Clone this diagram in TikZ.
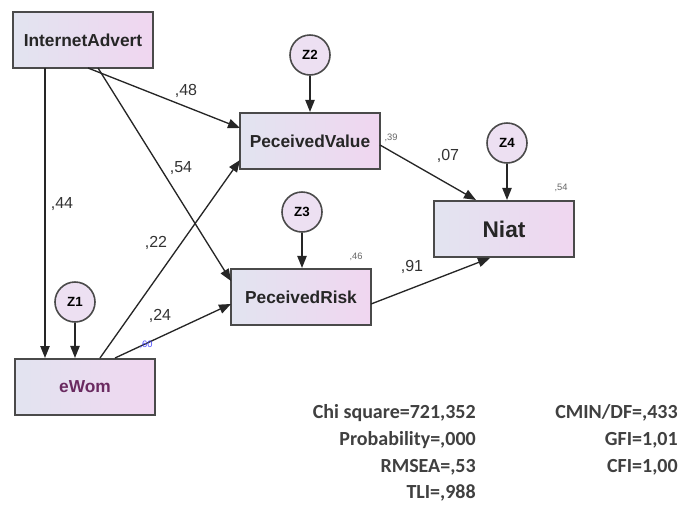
\documentclass[tikz,border=0pt]{standalone}
\usepackage{fontspec}
\setmainfont{Liberation Sans}
\newfontfamily\statfont{Carlito}
\usetikzlibrary{arrows.meta}
\definecolor{boxline}{HTML}{4A4A4A}
\definecolor{boxleft}{HTML}{E2E4F0}
\definecolor{boxright}{HTML}{F0D6F0}
\definecolor{circfill}{HTML}{EDE0F2}
\definecolor{stattext}{HTML}{404040}
\definecolor{womtext}{HTML}{6A2A60}
\tikzset{
  varbox/.style={draw=boxline, line width=1.6pt, left color=boxleft, right color=boxright,
    minimum width=105pt, minimum height=42pt, inner sep=0pt, font=\bfseries\fontsize{13}{15}\selectfont, text=black!85},
  errc/.style={circle, draw=boxline, line width=1.2pt, fill=circfill, minimum size=30pt, inner sep=0pt,
    font=\bfseries\fontsize{10}{12}\selectfont},
  path/.style={-{Triangle[length=9pt,width=7pt]}, line width=1pt, draw=black!85},
  coef/.style={font=\fontsize{12}{14}\selectfont, text=black!80},
  rsq/.style={font=\fontsize{7}{8}\selectfont, text=black!60},
  stat/.style={font=\statfont\bfseries\fontsize{15}{18}\selectfont, text=stattext, anchor=east, inner sep=0pt}
}
\begin{document}
\begin{tikzpicture}[x=0.75pt,y=-0.75pt]
\useasboundingbox (0,0) rectangle (682,515);
% nodes
\node[varbox] (ia) at (83,40) {InternetAdvert};
\node[varbox] (pv) at (310,141) {PeceivedValue};
\node[varbox] (pr) at (301,297) {PeceivedRisk};
\node[varbox, font=\bfseries\fontsize{17}{20}\selectfont] (ni) at (504,229) {Niat};
\node[varbox, text=womtext] (ew) at (85,387) {eWom};
\node[errc] (z1) at (75,302) {Z1};
\node[errc] (z2) at (310,55) {Z2};
\node[errc] (z3) at (302,212) {Z3};
\node[errc] (z4) at (507,143) {Z4};
% anchor coordinates
\coordinate (iaA) at (45,68);
\coordinate (ewA) at (45,358);
\coordinate (iaB) at (88,68);
\coordinate (pvB) at (240,128);
\coordinate (iaC) at (98,68);
\coordinate (prC) at (231,281);
\coordinate (ewD) at (100,358);
\coordinate (pvD) at (240,160);
\coordinate (ewE) at (115,358);
\coordinate (prE) at (231,304);
\coordinate (pvF) at (380,145);
\coordinate (niF) at (476,200);
\coordinate (prG) at (371,304);
\coordinate (niG) at (490,258);
% paths
\draw[path] (iaA) -- (ewA);
\draw[path] (iaB) -- (pvB);
\draw[path] (iaC) -- (prC);
\draw[path] (ewD) -- (pvD);
\draw[path] (ewE) -- (prE);
\draw[path] (pvF) -- (niF);
\draw[path] (prG) -- (niG);
\draw[path] (z1) -- (z1 |- ew.north);
\draw[path] (z2) -- (z2 |- pv.north);
\draw[path] (z3) -- (z3 |- pr.north);
\draw[path] (z4) -- (z4 |- ni.north);
% coefficients
\node[coef] (c44) at (62,204) {,44};
\node[coef] (c48) at (186,91) {,48};
\node[coef] (c54) at (181,168) {,54};
\node[coef] (c22) at (156,243) {,22};
\node[coef] (c24) at (160,316) {,24};
\node[coef] (c07) at (448,156) {,07};
\node[coef] (c91) at (412,267) {,91};
% squared multiple correlations
\node[rsq] (r39) at (391,138) {,39};
\node[rsq] (r54) at (561,188) {,54};
\node[rsq] (r46) at (356,257) {,46};
\node[rsq, text=blue!70] (r60) at (146,345) {,60};
% fit statistics
\node[stat] (s1) at (476,413) {Chi square=721,352};
\node[stat] (s2) at (476,440) {Probability=,000};
\node[stat] (s3) at (476,467) {RMSEA=,53};
\node[stat] (s4) at (476,493) {TLI=,988};
\node[stat] (s5) at (678,413) {CMIN/DF=,433};
\node[stat] (s6) at (678,440) {GFI=1,01};
\node[stat] (s7) at (678,467) {CFI=1,00};
\end{tikzpicture}
\end{document}
